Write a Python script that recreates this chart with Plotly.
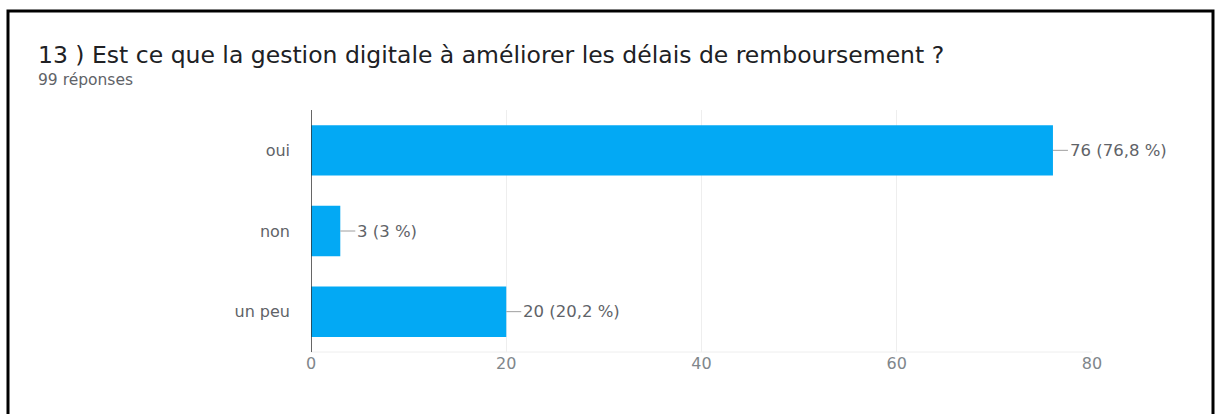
import plotly.graph_objects as go

# Survey answers and counts
categories = ["oui", "non", "un peu"]
counts = [76, 3, 20]
percents = ["76,8", "3", "20,2"]
total_responses = 99
question = "13 ) Est ce que la gestion digitale à améliorer les délais de remboursement ?"
x_ticks = [0, 20, 40, 60, 80]

BAR = "#03A9F4"
TXT = "#5f6368"
FONT = "DejaVu Sans, Verdana, sans-serif"

W, H = 1223, 414
L, R, T, B = 311, 131, 110, 62
pw, ph = W - L - R, H - T - B


def px_to_paper_x(px):
    return (px - L) / pw


def px_to_paper_y(py):
    return (H - B - py) / ph


fig = go.Figure(
    go.Bar(
        x=counts,
        y=categories,
        orientation="h",
        marker=dict(color=BAR, line=dict(width=0)),
        width=0.625,
        hoverinfo="skip",
    )
)

annotations = []
for cat, n, p in zip(categories, counts, percents):
    annotations.append(dict(
        x=n, y=cat, xref="x", yref="y",
        text=f"{n} ({p} %)",
        showarrow=True, arrowhead=0, arrowwidth=1, arrowcolor="#9e9e9e",
        ax=15, ay=0, xanchor="left", standoff=0,
        font=dict(family=FONT, size=16.5, color=TXT),
    ))

annotations.append(dict(
    x=px_to_paper_x(36), y=px_to_paper_y(55), xref="paper", yref="paper",
    xanchor="left", yanchor="middle", showarrow=False, text=question,
    font=dict(family=FONT, size=23.5, color="#202124"),
))
annotations.append(dict(
    x=px_to_paper_x(36), y=px_to_paper_y(80), xref="paper", yref="paper",
    xanchor="left", yanchor="middle", showarrow=False,
    text=f"{total_responses} réponses",
    font=dict(family=FONT, size=15.5, color=TXT),
))

fig.update_layout(
    width=W, height=H,
    margin=dict(l=L, r=R, t=T, b=B),
    paper_bgcolor="white", plot_bgcolor="white",
    showlegend=False,
    annotations=annotations,
    shapes=[dict(
        type="rect", xref="paper", yref="paper",
        x0=px_to_paper_x(8), x1=px_to_paper_x(1213),
        y0=px_to_paper_y(430), y1=px_to_paper_y(11),
        line=dict(color="black", width=3), fillcolor="rgba(0,0,0,0)",
        layer="above",
    )],
    xaxis=dict(
        range=[0, 80], tickvals=x_ticks, showgrid=True, gridcolor="#eeeeee",
        gridwidth=1, zeroline=False, showline=False, ticks="",
        tickfont=dict(family=FONT, size=16, color="#80868b"),
    ),
    yaxis=dict(
        categoryorder="array", categoryarray=categories[::-1],
        showgrid=False, zeroline=False, showline=False, ticks="",
        ticklabelstandoff=20,
        tickfont=dict(family=FONT, size=16, color=TXT),
    ),
)

# dark baseline along the value axis origin, bottom gridline in light grey
fig.add_shape(type="line", xref="x", yref="paper", x0=0, x1=0, y0=0, y1=1,
              line=dict(color="#333333", width=1.5), layer="above")
fig.add_shape(type="line", xref="paper", yref="paper", x0=0, x1=1, y0=0, y1=0,
              line=dict(color="#eeeeee", width=1), layer="below")

fig.write_html("out.html")
